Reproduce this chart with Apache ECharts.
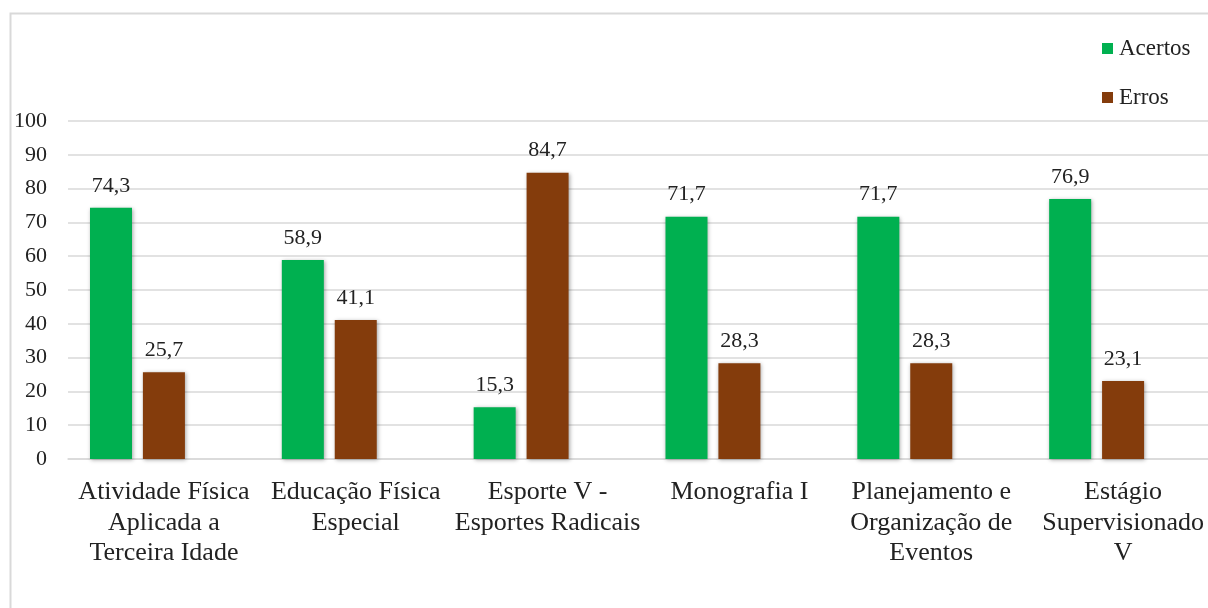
<!DOCTYPE html>
<html>
<head>
<meta charset="utf-8">
<script src="https://cdn.jsdelivr.net/npm/echarts@6/dist/echarts.min.js"></script>
<style>html,body{margin:0;padding:0;background:#fff;overflow:hidden;width:1208px;height:608px;}#c{width:1240px;height:608px;}</style>
</head>
<body>
<div id="c"></div>
<script>
const categories = ['Atividade Física\nAplicada a\nTerceira Idade', 'Educação Física\nEspecial', 'Esporte V -\nEsportes Radicais', 'Monografia I', 'Planejamento e\nOrganização de\nEventos', 'Estágio\nSupervisionado\nV'];
const acertos = [74.3, 58.9, 15.3, 71.7, 71.7, 76.9];
const erros = [25.7, 41.1, 84.7, 28.3, 28.3, 23.1];
const emptySlot = ['-', '-', '-', '-', '-', '-'];
const yTicks = {min: 0, max: 100, interval: 10};

const font = '"Liberation Serif", "Times New Roman", Tinos, "DejaVu Serif", serif';
const chart = echarts.init(document.getElementById('c'));
const labelFmt = p => String(p.value).replace('.', ',');
const barShadow = {shadowColor: 'rgba(0,0,0,0.35)', shadowBlur: 4, shadowOffsetX: 1, shadowOffsetY: 1};
chart.setOption({
  animation: false,
  backgroundColor: '#fff',
  textStyle: {fontFamily: font},
  graphic: [{type: 'rect', left: 8, top: 11, shape: {width: 1400, height: 800}, style: {fill: 'none', stroke: '#d9d9d9', lineWidth: 2}, z: -1}],
  legend: {
    data: ['Acertos', 'Erros'], orient: 'vertical', left: 1102, top: 37, padding: 0,
    itemWidth: 11, itemHeight: 11, itemGap: 26, icon: 'rect',
    textStyle: {fontFamily: font, fontSize: 23, color: '#222', padding: [0, 0, 0, 1]}
  },
  grid: {left: 68, top: 121, height: 338, width: 1151, containLabel: false},
  xAxis: {
    type: 'category', data: categories,
    axisLine: {lineStyle: {color: '#d9d9d9', width: 1.5}},
    axisTick: {show: false},
    axisLabel: {interval: 0, margin: 18, fontFamily: font, fontSize: 26, lineHeight: 30.5, color: '#222', align: 'center'}
  },
  yAxis: {
    type: 'value', min: yTicks.min, max: yTicks.max, interval: yTicks.interval,
    axisLine: {show: false}, axisTick: {show: false},
    splitLine: {lineStyle: {color: '#d9d9d9', width: 1.5}},
    axisLabel: {margin: 21, fontFamily: font, fontSize: 22, color: '#222'}
  },
  series: [
    {name: 'Acertos', type: 'bar', data: acertos, barWidth: 42, barGap: '26%', itemStyle: Object.assign({color: '#00B050'}, barShadow),
     label: {show: true, position: 'top', distance: 11, formatter: labelFmt, fontFamily: font, fontSize: 22, color: '#222'}},
    {name: 'Erros', type: 'bar', data: erros, barWidth: 42, barGap: '26%', itemStyle: Object.assign({color: '#843C0C'}, barShadow),
     label: {show: true, position: 'top', distance: 11, formatter: labelFmt, fontFamily: font, fontSize: 22, color: '#222'}},
    {name: 'empty', type: 'bar', data: emptySlot, barWidth: 42, barGap: '26%', itemStyle: {color: 'transparent'}}
  ]
});
</script>
</body>
</html>
